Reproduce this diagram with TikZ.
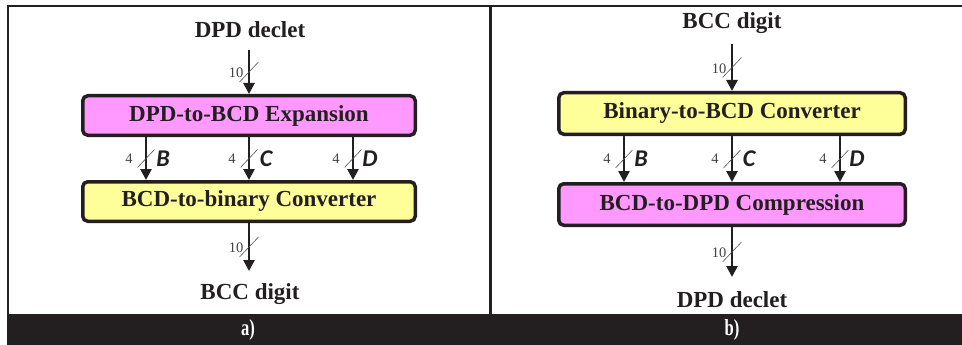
\documentclass[tikz,border=0pt]{standalone}
\usepackage{fontspec}
\setmainfont{Liberation Serif}
\newfontfamily\labfont{Carlito}
\usetikzlibrary{arrows.meta,calc}
\definecolor{ink}{HTML}{231F20}
\definecolor{pinkbox}{HTML}{FF99FF}
\definecolor{yellowbox}{HTML}{FFFF99}
\definecolor{slashgray}{HTML}{555555}
\tikzset{
  blockbox/.style={draw=ink, line width=3.5pt, rounded corners=5pt, inner sep=0pt,
    font=\fontsize{23}{23}\selectfont\bfseries, text=ink},
  titletext/.style={inner sep=0pt, font=\fontsize{23}{23}\selectfont\bfseries, text=ink},
  bus/.style={draw=ink, line width=2.6pt, -{Triangle[width=11pt,length=11pt]}},
  busslash/.style={draw=slashgray, line width=0.6pt},
  widthtext/.style={inner sep=0pt, font=\fontsize{14.5}{14.5}\selectfont, text=slashgray!80!black},
  sigtext/.style={inner sep=0pt, font=\labfont\fontsize{24}{24}\selectfont\bfseries\itshape, text=ink},
  captext/.style={inner sep=0pt, font=\fontsize{23}{23}\selectfont\bfseries, text=white},
}
\begin{document}
\begin{tikzpicture}[x=1pt,y=-1pt]
\useasboundingbox (0,0) rectangle (962,345);
\fill[white] (0,0) rectangle (962,345);
% frame
\draw[ink, line width=2pt] (7,6) -- (962,6);
\draw[ink, line width=2.5pt] (8.2,5) -- (8.2,315);
\draw[ink, line width=3pt] (490,6) -- (490,315);
\fill[ink] (7,314) rectangle (962,345);
\node[captext] (capa) at (248,330) {\scalebox{0.72}[1]{\bfseries a)}};
\node[captext] (capb) at (732,330) {\scalebox{0.72}[1]{\bfseries b)}};

% ---------- panel a ----------
\node[titletext] (atitle) at (250,30) {DPD declet};
\node[blockbox, fill=pinkbox, minimum width=332.5pt, minimum height=39.5pt] (aexp) at (249,115.5) {DPD-to-BCD Expansion};
\node[blockbox, fill=yellowbox, minimum width=332.5pt, minimum height=39.5pt] (aconv) at (249,201.5) {BCD-to-binary Converter};
\node[titletext] (abot) at (250,294) {BCC digit};
\coordinate (ain) at (249,50);
\coordinate (aout) at (249,271);

\draw[bus] (ain) -- (aexp.north);
\coordinate (am1) at ($(ain)!0.5!(aexp.north)$);
\draw[busslash] ($(am1)+(-9.5,10)$) -- ($(am1)+(9.5,-10)$);
\node[widthtext] (aw1) at ($(am1)+(-13,1)$) {10};

\foreach \dx/\nm/\lbl in {-103/B/B, 0/C/C, 104/D/D}{
  \coordinate (as\nm) at ($(aexp.south)+(\dx,0)$);
  \coordinate (ae\nm) at ($(aconv.north)+(\dx,0)$);
  \draw[bus] (as\nm) -- (ae\nm);
  \coordinate (am\nm) at ($(as\nm)!0.5!(ae\nm)$);
  \draw[busslash] ($(am\nm)+(-8.5,9)$) -- ($(am\nm)+(8.5,-9)$);
  \node[widthtext] (aw\nm) at ($(am\nm)+(-17,0)$) {4};
  \node[sigtext] (al\nm) at ($(am\nm)+(17,0)$) {\lbl};
}

\draw[bus] (aconv.south) -- (aout);
\coordinate (am2) at ($(aconv.south)!0.5!(aout)$);
\draw[busslash] ($(am2)+(-9.5,10)$) -- ($(am2)+(9.5,-10)$);
\node[widthtext] (aw2) at ($(am2)+(-13,1)$) {10};

% ---------- panel b ----------
\node[titletext] (btitle) at (732,23) {BCC digit};
\node[blockbox, fill=yellowbox, minimum width=346.5pt, minimum height=41.5pt] (bconv) at (732,113.5) {Binary-to-BCD Converter};
\node[blockbox, fill=pinkbox, minimum width=346.5pt, minimum height=41.5pt] (bcomp) at (732,204.5) {BCD-to-DPD Compression};
\node[titletext] (bbot) at (732,300) {DPD declet};
\coordinate (bin) at (732,44);
\coordinate (bout) at (732,277);

\draw[bus] (bin) -- (bconv.north);
\coordinate (bm1) at ($(bin)!0.5!(bconv.north)$);
\draw[busslash] ($(bm1)+(-9.5,10)$) -- ($(bm1)+(9.5,-10)$);
\node[widthtext] (bw1) at ($(bm1)+(-13,1)$) {10};

\foreach \dx/\nm/\lbl in {-108/B/B, 0/C/C, 108/D/D}{
  \coordinate (bs\nm) at ($(bconv.south)+(\dx,0)$);
  \coordinate (be\nm) at ($(bcomp.north)+(\dx,0)$);
  \draw[bus] (bs\nm) -- (be\nm);
  \coordinate (bm\nm) at ($(bs\nm)!0.5!(be\nm)$);
  \draw[busslash] ($(bm\nm)+(-8.5,9)$) -- ($(bm\nm)+(8.5,-9)$);
  \node[widthtext] (bw\nm) at ($(bm\nm)+(-17,0)$) {4};
  \node[sigtext] (bl\nm) at ($(bm\nm)+(17,0)$) {\lbl};
}

\draw[bus] (bcomp.south) -- (bout);
\coordinate (bm2) at ($(bcomp.south)!0.5!(bout)$);
\draw[busslash] ($(bm2)+(-9.5,10)$) -- ($(bm2)+(9.5,-10)$);
\node[widthtext] (bw2) at ($(bm2)+(-13,1)$) {10};
\end{tikzpicture}
\end{document}
